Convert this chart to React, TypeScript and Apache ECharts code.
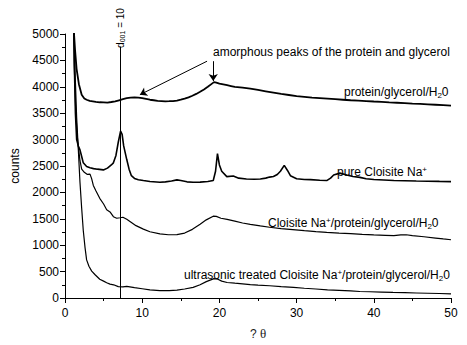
import React, { useEffect, useRef } from "react";
import * as echarts from "echarts";

// 2θ values and counts for each diffractogram
const theta1 = [1.1, 1.17, 1.3, 1.5, 1.8, 2.16, 2.5, 2.8, 3.2, 3.6, 4.0, 4.5, 5.0, 5.5, 6.0, 6.5, 7.0, 7.5, 8.0, 8.5, 9.0, 9.5, 10.0, 10.5, 11, 11.5, 12, 12.5, 13, 13.5, 14, 14.5, 15, 15.5, 16, 16.5, 17, 17.5, 18, 18.5, 19, 19.3, 19.6, 20, 20.5, 21, 21.5, 22, 23, 24, 25, 26, 27, 28, 29, 30, 31, 32, 33, 34, 35, 36, 37, 38, 39, 40, 41, 42, 43, 44, 45, 46, 47, 48, 49, 50];
const counts1 = [5600, 5000, 4700, 4340, 4050, 3850, 3780, 3755, 3735, 3725, 3715, 3707, 3705, 3700, 3712, 3725, 3745, 3765, 3785, 3795, 3800, 3795, 3785, 3770, 3755, 3745, 3735, 3730, 3725, 3727, 3730, 3740, 3755, 3775, 3800, 3830, 3865, 3905, 3950, 4000, 4055, 4088, 4080, 4060, 4045, 4030, 4015, 4000, 3985, 3965, 3940, 3915, 3890, 3865, 3845, 3825, 3810, 3795, 3785, 3775, 3765, 3755, 3745, 3738, 3730, 3722, 3715, 3705, 3698, 3690, 3682, 3675, 3668, 3660, 3652, 3642];

const theta2 = [1.1, 1.2, 1.35, 1.51, 1.73, 1.94, 2.16, 2.37, 2.8, 3.24, 3.7, 4.2, 4.97, 5.5, 6.0, 6.27, 6.6, 6.9, 7.2, 7.4, 7.6, 8.0, 8.3, 8.6, 9.0, 9.5, 10.15, 11, 12.3, 13, 13.8, 14.5, 15, 15.8, 16.6, 17.5, 18.5, 19.2, 19.5, 19.75, 20.0, 20.3, 20.96, 21.8, 22.5, 23.5, 24.5, 25.3, 26, 26.5, 27, 27.5, 27.9, 28.4, 28.8, 29.2, 30, 31, 31.8, 33, 33.9, 34.4, 34.8, 35.6, 36.5, 37.3, 38.2, 39, 40, 41.3, 42.6, 44, 45.5, 47, 48.5, 50];
const counts2 = [5600, 4500, 3500, 3000, 2880, 2806, 2680, 2560, 2490, 2468, 2450, 2440, 2426, 2460, 2520, 2560, 2700, 2950, 3160, 3100, 2880, 2622, 2440, 2316, 2265, 2240, 2224, 2205, 2193, 2200, 2215, 2237, 2225, 2200, 2193, 2195, 2205, 2224, 2400, 2733, 2520, 2400, 2298, 2310, 2270, 2255, 2250, 2255, 2270, 2290, 2300, 2340, 2400, 2512, 2420, 2316, 2260, 2245, 2242, 2230, 2224, 2270, 2329, 2365, 2330, 2300, 2285, 2260, 2245, 2235, 2224, 2220, 2215, 2212, 2208, 2205];

const theta3 = [1.1, 1.2, 1.4, 1.6, 1.73, 1.94, 2.16, 2.5, 2.9, 3.24, 3.45, 3.67, 4.0, 4.5, 5.0, 5.4, 5.83, 6.27, 6.7, 7.13, 7.5, 8.0, 8.6, 9.2, 10.15, 11, 12.3, 13.4, 14.5, 15.5, 16.5, 17.5, 18.3, 19.2, 19.6, 20.2, 21, 22, 23, 24, 25.3, 26.5, 28, 29.5, 31, 32.5, 33.9, 35.5, 37, 38.5, 40, 41.5, 42.6, 43.5, 44.2, 45, 46.5, 48, 49, 50];
const counts3 = [5600, 4400, 3500, 3050, 2867, 2600, 2439, 2380, 2340, 2347, 2260, 2132, 2030, 1888, 1780, 1673, 1630, 1540, 1510, 1520, 1530, 1490, 1430, 1370, 1305, 1255, 1213, 1198, 1200, 1230, 1300, 1397, 1480, 1549, 1545, 1510, 1489, 1455, 1420, 1395, 1366, 1340, 1315, 1295, 1275, 1258, 1244, 1230, 1218, 1205, 1195, 1187, 1182, 1195, 1198, 1180, 1160, 1135, 1118, 1103];

const theta4 = [1.1, 1.17, 1.3, 1.51, 1.73, 1.94, 2.16, 2.37, 2.6, 2.8, 3.1, 3.46, 3.9, 4.5, 5.0, 5.4, 5.83, 6.3, 6.9, 7.5, 8.0, 9, 10, 11, 12.3, 13.5, 14.5, 15.5, 16.6, 17.5, 18.3, 19.3, 19.8, 20.3, 21, 22, 23, 24, 25, 26.5, 28, 29.6, 31, 32.5, 34, 35.5, 37, 38.2, 39.5, 41, 42.5, 44, 45.5, 47, 48.5, 50];
const counts4 = [5600, 5000, 4300, 3419, 2800, 2193, 1700, 1274, 950, 722, 600, 509, 440, 355, 320, 290, 263, 250, 215, 210, 221, 195, 175, 155, 141, 140, 150, 170, 202, 250, 310, 368, 355, 320, 294, 280, 268, 255, 245, 232, 215, 202, 185, 170, 155, 145, 135, 123, 118, 112, 105, 100, 95, 90, 85, 79];

const seriesNames = [
  "protein/glycerol/H2O",
  "pure Cloisite Na+",
  "Cloisite Na+/protein/glycerol/H2O",
  "ultrasonic treated Cloisite Na+/protein/glycerol/H2O",
];

const xTicks = { min: 0, max: 50, interval: 10 };
const yTicks = { min: 0, max: 5000, interval: 500 };

const d001Theta = 7.13;
const FONT = "'Liberation Sans', Arial, sans-serif";

const pairs = (xs: number[], ys: number[]) => xs.map((x, i) => [x, ys[i]]);

const rich = {
  sub: { fontSize: 8, lineHeight: 8, verticalAlign: "bottom", fontFamily: FONT, fill: "#000", color: "#000" },
  sup: { fontSize: 8, lineHeight: 8, verticalAlign: "top", fontFamily: FONT, fill: "#000", color: "#000" },
  sub2: { fontSize: 7, lineHeight: 7, verticalAlign: "bottom", fontFamily: FONT, fill: "#000", color: "#000" },
};

function label(text: string, x: number, y: number) {
  return {
    type: "text",
    x,
    y,
    silent: true,
    style: {
      text,
      fontSize: 12,
      fontFamily: FONT,
      fill: "#000",
      align: "left",
      verticalAlign: "middle",
      lineHeight: 14,
      rich,
    },
  };
}

export default function App() {
  const ref = useRef<HTMLDivElement>(null);
  useEffect(() => {
    if (!ref.current) return;
    const chart = echarts.init(ref.current, undefined, { renderer: "svg" });
    const lineSeries = (name: string, data: number[][], width: number, extra: any = {}) => ({
      name,
      type: "line",
      data,
      symbol: "none",
      showSymbol: false,
      clip: true,
      lineStyle: { color: "#000", width },
      itemStyle: { color: "#000" },
      silent: true,
      ...extra,
    });
    chart.setOption({
      animation: false,
      backgroundColor: "#fff",
      grid: { left: 65, right: 16, top: 34, bottom: 39, containLabel: false },
      xAxis: {
        type: "value",
        ...xTicks,
        name: "? {t|θ}",
        nameLocation: "middle",
        nameGap: 29,
        nameTextStyle: {
          fontSize: 12,
          fontFamily: FONT,
          color: "#222",
          rich: { t: { fontSize: 13, fontFamily: "'Liberation Serif', 'DejaVu Serif', serif", color: "#222" } },
        },
        axisLine: { show: true, lineStyle: { color: "#000", width: 1 } },
        axisTick: { show: true, inside: false, length: 5, lineStyle: { color: "#000" } },
        minorTick: { show: true, splitNumber: 2, length: 3, lineStyle: { color: "#000" } },
        splitLine: { show: false },
        axisLabel: { color: "#000", fontSize: 12, fontFamily: FONT, margin: 9, formatter: (v: number) => String(v) },
      },
      yAxis: {
        type: "value",
        ...yTicks,
        name: "counts",
        nameLocation: "middle",
        nameGap: 38,
        nameTextStyle: { fontSize: 12, fontFamily: FONT, color: "#000" },
        axisLine: { show: true, lineStyle: { color: "#000", width: 1 } },
        axisTick: { show: true, inside: false, length: 5, lineStyle: { color: "#000" } },
        minorTick: { show: true, splitNumber: 2, length: 3, lineStyle: { color: "#000" } },
        splitLine: { show: false },
        axisLabel: { color: "#000", fontSize: 12, fontFamily: FONT, margin: 6, formatter: (v: number) => String(v) },
      },
      series: [
        lineSeries(seriesNames[0], pairs(theta1, counts1), 1.8, {
          markLine: {
            silent: true,
            animation: false,
            label: { show: false },
            lineStyle: { color: "#000", width: 1, type: "solid" },
            symbol: ["none", "arrow"],
            symbolSize: 7,
            data: [
              [
                { coord: [d001Theta, 0], symbol: "none" },
                { coord: [d001Theta, 4760], symbol: "none" },
              ],
              [
                { coord: [18.4, 4485], symbol: "none" },
                { coord: [9.7, 3850], symbol: "arrow", symbolSize: 7 },
              ],
              [
                { coord: [19.2, 4485], symbol: "none" },
                { coord: [19.2, 4110], symbol: "arrow", symbolSize: 7 },
              ],
            ],
          },
        }),
        lineSeries(seriesNames[1], pairs(theta2, counts2), 1.6),
        lineSeries(seriesNames[2], pairs(theta3, counts3), 1.2),
        lineSeries(seriesNames[3], pairs(theta4, counts4), 1.2),
      ],
      graphic: [
        label("amorphous peaks of the protein and glycerol", 213, 52),
        label("protein/glycerol/H{sub|2}0", 344, 92),
        label("pure Cloisite Na{sup|+}", 337, 172),
        label("Cloisite Na{sup|+}/protein/glycerol/H{sub|2}0", 268, 223),
        label("ultrasonic treated Cloisite Na{sup|+}/protein/glycerol/H{sub|2}0", 184, 275),
        {
          type: "text",
          x: 120,
          y: 28,
          rotation: Math.PI / 2,
          silent: true,
          style: {
            text: "d{sub2|001} = 10",
            fontSize: 10,
            fontFamily: FONT,
            fill: "#000",
            align: "center",
            verticalAlign: "middle",
            lineHeight: 12,
            rich,
          },
        },
      ],
    });
    return () => chart.dispose();
  }, []);
  return <div ref={ref} style={{ width: 467, height: 345, position: "absolute", left: 0, top: 0 }} />;
}
